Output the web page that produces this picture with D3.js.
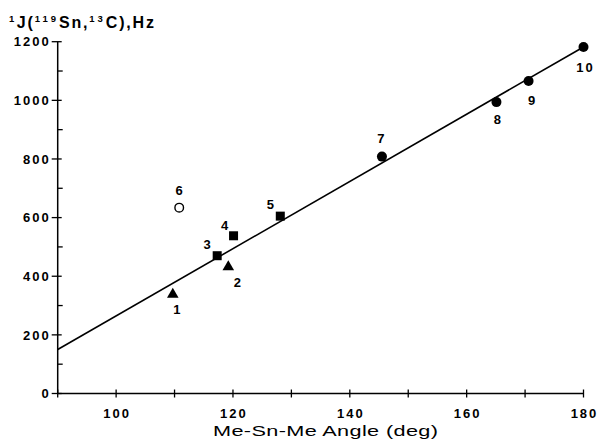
<!DOCTYPE html>
<html>
<head>
<meta charset="utf-8">
<script src="https://cdn.jsdelivr.net/npm/d3@7"></script>
<style>
  body { margin: 0; background: #fff; }
  text { font-family: "Liberation Sans", Arial, sans-serif; fill: #000; }
</style>
</head>
<body>
<div id="chart"></div>
<script>
const W = 598, H = 441;

// compounds: label, angle (deg), J (Hz), marker
const labels = ["1", "2", "3", "4", "5", "6", "7", "8", "9", "10"];
const angles = [109.7, 119.2, 117.3, 120.1, 128.1, 110.8, 145.5, 165.1, 170.6, 180];
const jValues = [338, 432, 470, 538, 605, 634, 808, 994, 1066, 1182];
const shapes = ["tri", "tri", "sq", "sq", "sq", "open", "dot", "dot", "dot", "dot"];
// label offsets from the marker (px)
const labelDx = [4, 9, -10, -9, -10, 0, -1, 1, 3, 1];
const labelDy = [15, 15, -11, -10, -12, -17, -18, 17, 19, 20];

// fitted line end points
const fitX = [90, 180];
const fitY = [150, 1182];

const xTicks = [90, 100, 110, 120, 130, 140, 150, 160, 170, 180];
const xLabels = [100, 120, 140, 160, 180];
const yMajor = [0, 200, 400, 600, 800, 1000, 1200];
const yMinor = [100, 300, 500, 700, 900, 1100];

const x = d3.scaleLinear().domain([90, 180]).range([0, 525.8]);
const y = d3.scaleLinear().domain([0, 1200]).range([351.8, 0]);

const svg = d3.select("#chart").append("svg")
    .attr("width", W).attr("height", H);
const g = svg.append("g").attr("transform", "translate(57.7,41.7)");

const lab = sel => sel.attr("font-size", 13).attr("font-weight", "bold").attr("letter-spacing", 2);

// axes
g.append("line").attr("x1", 0).attr("x2", 0).attr("y1", 0).attr("y2", y(0))
  .attr("stroke", "#000").attr("stroke-width", 1.5);
g.append("line").attr("x1", 0).attr("x2", x(180)).attr("y1", y(0)).attr("y2", y(0))
  .attr("stroke", "#000").attr("stroke-width", 1.5);

g.selectAll(".ymaj").data(yMajor).join("line")
  .attr("x1", -6).attr("x2", 4).attr("y1", d => y(d)).attr("y2", d => y(d))
  .attr("stroke", "#000").attr("stroke-width", 1.3);
g.selectAll(".ymin").data(yMinor).join("line")
  .attr("x1", 0).attr("x2", 5).attr("y1", d => y(d)).attr("y2", d => y(d))
  .attr("stroke", "#000").attr("stroke-width", 1.3);
g.selectAll(".ylab").data(yMajor).join("text")
  .attr("x", -7).attr("y", d => y(d)).attr("dy", "0.36em")
  .attr("text-anchor", "end").call(lab)
  .text(d => d);

g.selectAll(".xt").data(xTicks).join("line")
  .attr("x1", d => x(d)).attr("x2", d => x(d)).attr("y1", y(0) - 4).attr("y2", y(0) + 4)
  .attr("stroke", "#000").attr("stroke-width", 1.3);
g.selectAll(".xlab").data(xLabels).join("text")
  .attr("x", d => x(d) + 1).attr("y", y(0) + 25)
  .attr("text-anchor", "middle").call(lab)
  .text(d => d);

// fit line
g.append("line")
  .attr("x1", x(fitX[0])).attr("y1", y(fitY[0]))
  .attr("x2", x(fitX[1])).attr("y2", y(fitY[1]))
  .attr("stroke", "#000").attr("stroke-width", 1.6);

// markers
const pts = labels.map((l, i) => ({ l, a: angles[i], j: jValues[i], s: shapes[i], dx: labelDx[i], dy: labelDy[i] }));
const tri = d3.symbol().type(d3.symbolTriangle).size(58);

pts.forEach(p => {
  const px = x(p.a), py = y(p.j);
  if (p.s === "tri") {
    g.append("path").attr("d", tri).attr("transform", `translate(${px},${py})`).attr("fill", "#000");
  } else if (p.s === "sq") {
    g.append("rect").attr("x", px - 4.5).attr("y", py - 4.5).attr("width", 9).attr("height", 9).attr("fill", "#000");
  } else if (p.s === "open") {
    g.append("circle").attr("cx", px).attr("cy", py).attr("r", 4.3)
      .attr("fill", "#fff").attr("stroke", "#000").attr("stroke-width", 1.4);
  } else {
    g.append("circle").attr("cx", px).attr("cy", py).attr("r", 5).attr("fill", "#000");
  }
  g.append("text").attr("x", px + p.dx + 1).attr("y", py + p.dy).attr("dy", "0.36em")
    .attr("text-anchor", "middle").call(lab)
    .text(p.l);
});

// y title with superscripts
const t = svg.append("text").attr("x", 9).attr("y", 28)
  .attr("font-size", 16).attr("font-weight", "bold").attr("letter-spacing", 1.8);
t.append("tspan").attr("font-size", 9.5).attr("dy", -6).attr("letter-spacing", 2.5).text("1");
t.append("tspan").attr("dy", 6).text("J(");
t.append("tspan").attr("font-size", 9.5).attr("dy", -6).attr("letter-spacing", 3).text("119");
t.append("tspan").attr("dy", 6).text("Sn,");
t.append("tspan").attr("font-size", 9.5).attr("dy", -6).attr("letter-spacing", 3).text("13");
t.append("tspan").attr("dy", 6).text("C),Hz");

// x title, wide lettering
svg.append("text").attr("transform", "translate(213,436) scale(1.4,1)")
  .attr("font-size", 15.5).attr("textLength", 160.7).attr("lengthAdjust", "spacing")
  .text("Me-Sn-Me Angle (deg)");
</script>
</body>
</html>
